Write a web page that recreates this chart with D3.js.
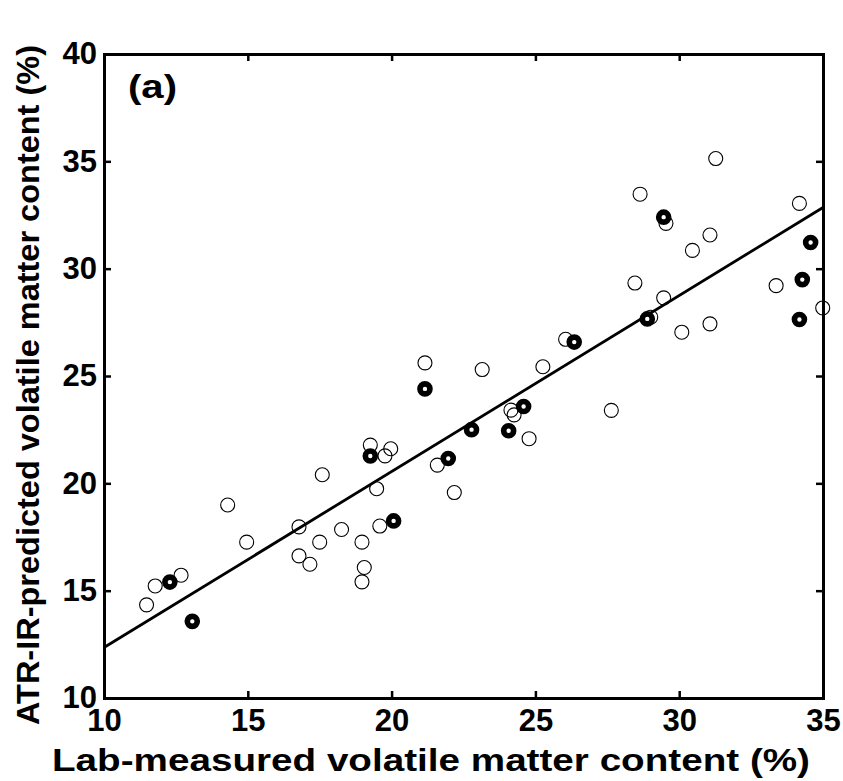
<!DOCTYPE html>
<html>
<head>
<meta charset="utf-8">
<script src="https://cdn.jsdelivr.net/npm/d3@7"></script>
<style>
  body { margin: 0; background: #fff; }
  text { font-family: "Liberation Sans", Arial, sans-serif; font-weight: bold; }
</style>
</head>
<body>
<div id="chart"></div>
<script>
// open circles: [lab-measured, ATR-IR predicted]
var openPts = [
  [11.48, 14.34], [11.78, 15.22], [12.68, 15.72], [14.30, 18.99], [14.96, 17.26],
  [16.78, 17.97], [16.78, 16.62], [17.16, 16.23], [17.50, 17.26], [17.59, 20.40],
  [18.26, 17.85], [18.97, 17.26], [19.05, 16.08], [18.97, 15.41], [19.26, 21.78],
  [19.77, 21.28], [19.97, 21.61], [19.48, 19.75], [19.59, 18.01], [21.59, 20.85],
  [22.18, 19.57], [21.16, 25.61], [23.15, 25.30], [25.26, 25.43], [26.05, 26.71],
  [24.15, 23.41], [24.26, 23.19], [24.78, 22.08], [31.27, 35.13], [28.64, 33.47],
  [34.18, 33.04], [29.54, 32.11], [31.07, 31.57], [30.46, 30.85], [28.46, 29.33],
  [33.37, 29.21], [29.46, 28.64], [34.99, 28.17], [29.01, 27.74], [30.09, 27.04],
  [31.07, 27.43], [27.64, 23.40]
]
// bold rings
var boldPts = [
  [12.29, 15.40], [13.07, 13.57], [19.26, 21.27], [20.07, 18.25], [21.97, 21.16],
  [22.78, 22.50], [21.16, 24.40], [24.07, 22.45], [24.59, 23.58], [26.35, 26.58],
  [29.46, 32.40], [34.57, 31.22], [34.28, 29.49], [34.18, 27.63], [28.89, 27.66]
]
var fitLine = [[10, 12.35], [35, 32.85]]
var xTicks = [10, 15, 20, 25, 30, 35]
var yTicks = [10, 15, 20, 25, 30, 35, 40]

var width = 843
var height = 781
var mLeft = 104, mRight = 823, mTop = 54, mBottom = 698

var svg = d3.select("#chart").append("svg")
    .attr("width", width)
    .attr("height", height)

var x = d3.scaleLinear().domain([10, 35]).range([mLeft, mRight])
var y = d3.scaleLinear().domain([10, 40]).range([mBottom, mTop])

var line = d3.line()
    .x(d => x(d[0]))
    .y(d => y(d[1]))

svg.append("path")
    .datum(fitLine)
    .attr("d", line)
    .attr("fill", "none")
    .attr("stroke", "black")
    .attr("stroke-width", 2.8)

svg.selectAll(".open")
    .data(openPts)
    .join("circle")
    .attr("class", "open")
    .attr("cx", d => x(d[0]))
    .attr("cy", d => y(d[1]))
    .attr("r", 7)
    .attr("fill", "none")
    .attr("stroke", "black")
    .attr("stroke-width", 1.1)

svg.selectAll(".bold")
    .data(boldPts)
    .join("circle")
    .attr("class", "bold")
    .attr("cx", d => x(d[0]))
    .attr("cy", d => y(d[1]))
    .attr("r", 5)
    .attr("fill", "white")
    .attr("stroke", "black")
    .attr("stroke-width", 5.6)

// axes, ticks pointing inward on all four sides
var tl = 7
var axB = svg.append("g").attr("transform", "translate(0," + mBottom + ")")
    .call(d3.axisBottom(x).tickValues(xTicks).tickSize(-tl).tickPadding(14))
var axT = svg.append("g").attr("transform", "translate(0," + mTop + ")")
    .call(d3.axisTop(x).tickValues(xTicks).tickSize(-tl).tickFormat(""))
var axL = svg.append("g").attr("transform", "translate(" + mLeft + ",0)")
    .call(d3.axisLeft(y).tickValues(yTicks).tickSize(-tl).tickPadding(14))
var axR = svg.append("g").attr("transform", "translate(" + mRight + ",0)")
    .call(d3.axisRight(y).tickValues(yTicks).tickSize(-tl).tickFormat(""))

;[axB, axT, axL, axR].forEach(function(g) {
  g.select(".domain").attr("stroke-width", 3).attr("stroke", "black")
  g.selectAll(".tick line").attr("stroke-width", 2.5).attr("stroke", "black")
  g.selectAll(".tick text").attr("font-size", 31).attr("fill", "black")
    .attr("font-family", "Liberation Sans, Arial, sans-serif").attr("font-weight", "bold")
})
axL.selectAll(".tick text").attr("dx", 7)
axB.selectAll(".tick text").attr("dy", "0.6em")

svg.append("text")
    .attr("x", 128)
    .attr("y", 98)
    .attr("font-size", 33)
    .attr("textLength", 49)
    .attr("lengthAdjust", "spacingAndGlyphs")
    .text("(a)")

svg.append("text")
    .attr("x", 52)
    .attr("y", 771)
    .attr("font-size", 31)
    .attr("textLength", 758)
    .attr("lengthAdjust", "spacingAndGlyphs")
    .text("Lab-measured volatile matter content (%)")

svg.append("text")
    .attr("transform", "translate(39,725) rotate(-90)")
    .attr("font-size", 31)
    .attr("textLength", 680)
    .attr("lengthAdjust", "spacingAndGlyphs")
    .text("ATR-IR-predicted volatile matter content (%)")
</script>
</body>
</html>
